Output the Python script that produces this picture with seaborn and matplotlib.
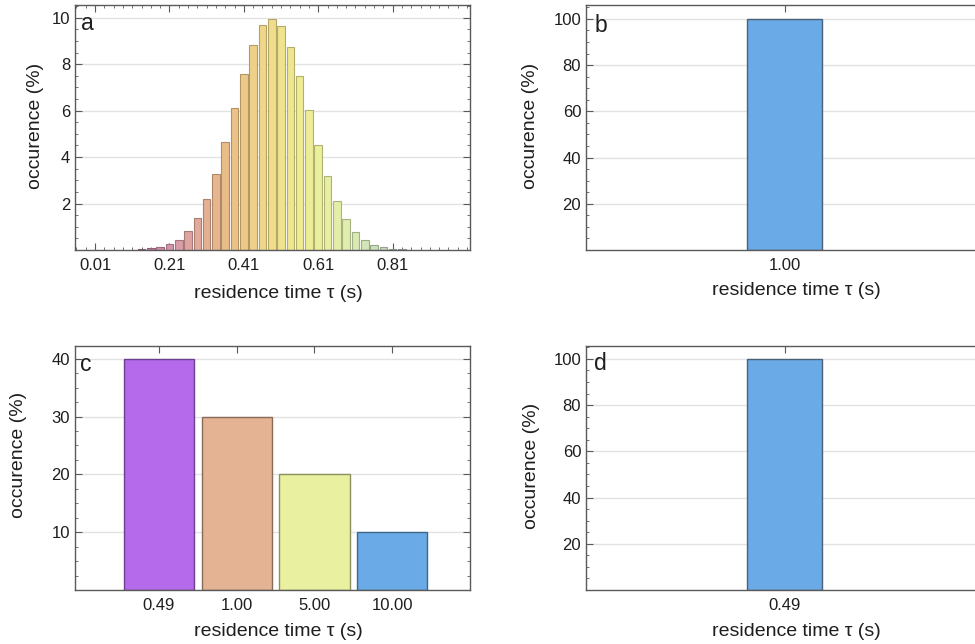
import matplotlib
matplotlib.use("Agg")
import numpy as np
import pandas as pd
import matplotlib.pyplot as plt
from matplotlib.colors import LinearSegmentedColormap, to_rgb
from matplotlib.ticker import MultipleLocator, NullLocator
import seaborn as sns

# ---- panel a: residence-time histogram (bin centre in s, occurrence in %) ----
tau_a = [0.135, 0.160, 0.185, 0.210, 0.235, 0.260, 0.285, 0.310, 0.335, 0.360,
         0.385, 0.410, 0.435, 0.460, 0.485, 0.510, 0.535, 0.560, 0.585, 0.610,
         0.635, 0.660, 0.685, 0.710, 0.735, 0.760, 0.785, 0.810, 0.835]
occ_a = [0.06, 0.08, 0.14, 0.24, 0.45, 0.81, 1.37, 2.20, 3.29, 4.63,
         6.11, 7.59, 8.83, 9.71, 9.95, 9.65, 8.76, 7.50, 6.01, 4.52,
         3.20, 2.11, 1.32, 0.79, 0.44, 0.22, 0.12, 0.06, 0.03]
ticks_a = [0.01, 0.21, 0.41, 0.61, 0.81]
tick_labels_a = ["0.01", "0.21", "0.41", "0.61", "0.81"]

# ---- panel b: single residence time ----
tau_b = ["1.00"]
occ_b = [100]

# ---- panel c: mixture of residence times ----
tau_c = ["0.49", "1.00", "5.00", "10.00"]
occ_c = [40, 30, 20, 10]

# ---- panel d: single residence time ----
tau_d = ["0.49"]
occ_d = [100]

sns.set_theme(style="white")
plt.rcParams["font.family"] = ["Liberation Sans", "DejaVu Sans"]

TEXT = "#1e1e1e"
SPINE = "#5a5a5a"
BLUE = "#6aaae6"
colors_c = ["#b46aea", "#e4b393", "#e9f09f", BLUE]

# gradient used for the histogram bars (purple -> orange -> yellow -> pale green)
grad = LinearSegmentedColormap.from_list(
    "restime",
    ["#b37492", "#cf8fae", "#dba0a6", "#e3ad97", "#e8ba8b", "#ecc886",
     "#efd689", "#f0e38d", "#eeec93", "#eaf09d", "#e2eeab", "#d6e8b7",
     "#c6dbbd", "#bccfbd"])


def darker(c, f=0.62):
    r, g, b = to_rgb(c)
    return (r * f, g * f, b * f)


def style_axes(ax, ytop, ymajor, yminor):
    ax.set_ylim(0, ytop)
    ax.set_yticks(ymajor)
    ax.set_yticklabels([str(v) for v in ymajor])
    ax.yaxis.set_minor_locator(MultipleLocator(yminor))
    ax.grid(False)
    ax.grid(axis="y", which="major", color="#e2e2e2", lw=1.0)
    ax.set_axisbelow(True)
    ax.tick_params(which="both", direction="in", top=True, right=True,
                   left=True, bottom=True, color=SPINE, labelcolor=TEXT,
                   labelsize=12)
    ax.tick_params(axis="x", which="both", pad=5.5)
    ax.tick_params(axis="y", which="both", pad=3.5)
    ax.tick_params(which="major", length=5, width=0.8)
    ax.tick_params(which="minor", length=2.5, width=0.6)
    for s in ax.spines.values():
        s.set_visible(True)
        s.set_color(SPINE)
        s.set_linewidth(1.0)


def labels(ax, letter, ylab_xy, xlab_xy, letter_xy):
    ax.set_ylabel("occurence (%)", fontsize=14, color=TEXT, va="center")
    ax.yaxis.set_label_coords(*ylab_xy)
    ax.set_xlabel("residence time τ (s)", fontsize=14, color=TEXT, va="center")
    ax.xaxis.set_label_coords(*xlab_xy)
    ax.text(letter_xy[0], letter_xy[1], letter, transform=ax.transAxes,
            fontsize=16.5, color=TEXT, va="baseline", ha="left")


fig = plt.figure(figsize=(9.75, 6.44), dpi=100)
W, H = 975.0, 644.0
ax_a = fig.add_axes([75 / W, (H - 250) / H, 395 / W, 245 / H])
ax_b = fig.add_axes([586 / W, (H - 250) / H, 397 / W, 245 / H])
ax_c = fig.add_axes([75 / W, (H - 590) / H, 395 / W, 244 / H])
ax_d = fig.add_axes([586 / W, (H - 590) / H, 397 / W, 244 / H])

# ---- a ----
df_a = pd.DataFrame({"tau": tau_a, "occ": occ_a})
df_a["bin"] = [f"{t:.3f}" for t in tau_a]
lo, hi = min(tau_a), max(tau_a)
pal_a = {b: grad((t - lo) / (hi - lo)) for b, t in zip(df_a["bin"], tau_a)}
sns.barplot(data=df_a, x="tau", y="occ", hue="bin", palette=pal_a,
            native_scale=True, width=0.82, dodge=False, legend=False,
            saturation=1, linewidth=0.8, ax=ax_a)
for p in ax_a.patches:
    p.set_edgecolor(darker(p.get_facecolor(), 0.75))
style_axes(ax_a, 10.55, [2, 4, 6, 8, 10], 0.5)
ax_a.set_xlim(-0.044, 1.018)
ax_a.set_xticks(ticks_a)
ax_a.set_xticklabels(tick_labels_a)
ax_a.xaxis.set_minor_locator(MultipleLocator(0.025, offset=0.01))
labels(ax_a, "a", (-0.101, 0.506), (0.514, -0.176), (0.016, 0.898))

# ---- b ----
sns.barplot(x=tau_b, y=occ_b, color=BLUE, saturation=1, width=0.8,
            edgecolor="#4a6178", linewidth=1.0, ax=ax_b)
style_axes(ax_b, 106.0, [20, 40, 60, 80, 100], 5)
ax_b.set_xlim(-2.09, 2.09)
ax_b.xaxis.set_minor_locator(NullLocator())
labels(ax_b, "b", (-0.141, 0.506), (0.529, -0.167), (0.021, 0.891))

# ---- c ----
sns.barplot(x=tau_c, y=occ_c, hue=tau_c, palette=colors_c, saturation=1,
            width=0.905, dodge=False, legend=False, linewidth=1.0, ax=ax_c)
for p in ax_c.patches:
    p.set_edgecolor(darker(p.get_facecolor(), 0.6))
style_axes(ax_c, 42.2, [10, 20, 30, 40], 2.5)
ax_c.set_xlim(-1.08, 4.0)
ax_c.xaxis.set_minor_locator(NullLocator())
labels(ax_c, "c", (-0.144, 0.553), (0.514, -0.172), (0.012, 0.899))

# ---- d ----
sns.barplot(x=tau_d, y=occ_d, color=BLUE, saturation=1, width=0.8,
            edgecolor="#4a6178", linewidth=1.0, ax=ax_d)
style_axes(ax_d, 105.6, [20, 40, 60, 80, 100], 5)
ax_d.set_xlim(-2.09, 2.09)
ax_d.xaxis.set_minor_locator(NullLocator())
labels(ax_d, "d", (-0.137, 0.508), (0.529, -0.172), (0.021, 0.902))

fig.savefig("out.png", dpi=100, facecolor="white")
